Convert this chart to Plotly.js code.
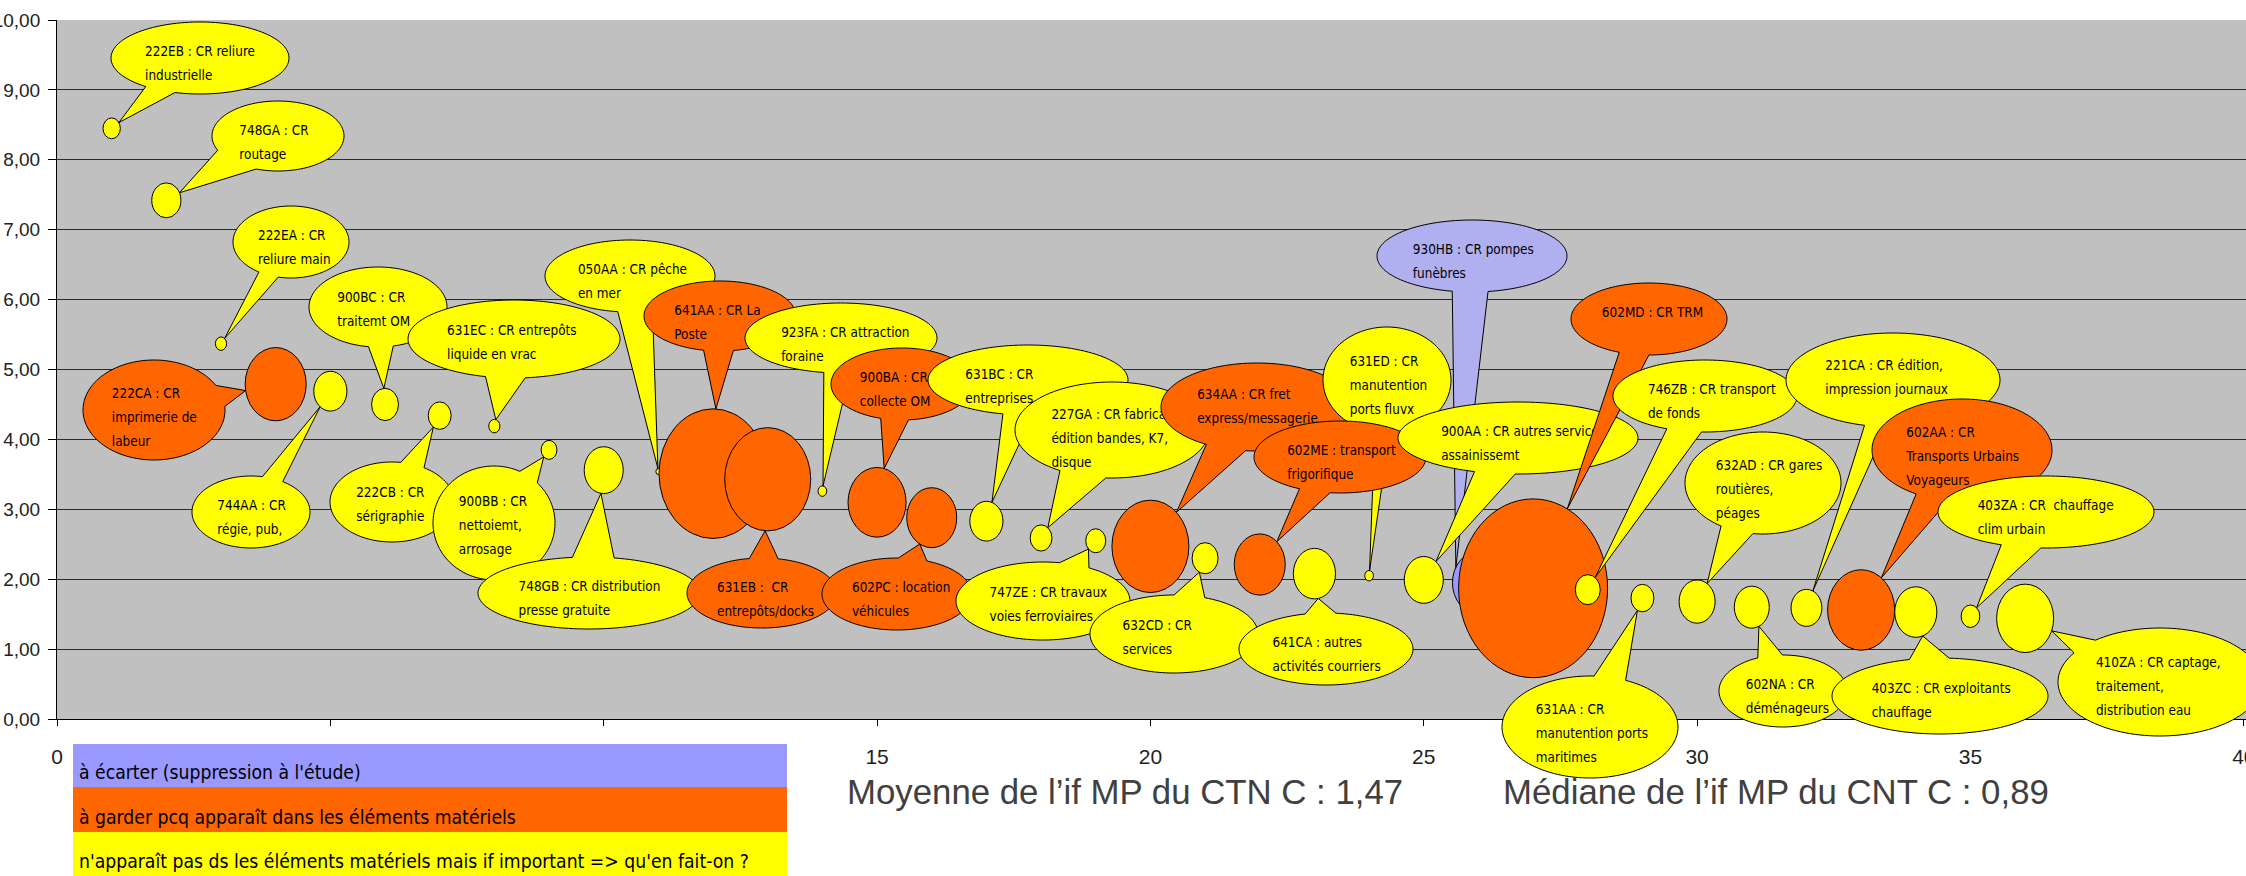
<!DOCTYPE html>
<html><head><meta charset="utf-8">
<script src="https://cdn.plot.ly/plotly-3.0.1.min.js"></script>
<style>html,body{margin:0;padding:0;background:#fff;overflow:hidden}#chart{width:2246px;height:876px}</style>
</head><body><div id="chart"></div>
<script>
// ================= DATA =================
const codes = ['222EB','748GA','222EA','222CA','744AA','900BC','222CB','631EC','900BB','748GB',
  '050AA','641AA','631EB','923FA','900BA','602PC','631BC','227GA','747ZE','634AA',
  '632CD','602ME','641CA','631ED','900AA','930HB','602MD','746ZB','631AA','632AD',
  '602NA','221CA','602AA','403ZC','403ZA','410ZA'];
const rank = [1,2,3,4,5,6,7,8,9,10,11,12,13,14,15,16,17,18,19,20,21,22,23,24,25,26,27,28,29,30,31,32,33,34,35,36];
const ifMP = [8.45,7.42,5.37,4.79,4.69,4.50,4.34,4.19,3.85,3.56,
  3.54,3.51,3.43,3.26,3.10,2.88,2.83,2.59,2.55,2.47,
  2.30,2.21,2.08,2.05,1.99,1.95,1.87,1.85,1.73,1.68,
  1.60,1.59,1.56,1.53,1.47,1.44];
const weight = [12,34,5,149,44,29,21,5,10,61,
  1,467,296,3,135,100,44,19,16,237,
  27,104,71,3,61,108,888,25,21,52,
  49,38,180,71,14,130];
// B = à écarter, O = à garder, Y = n'apparaît pas
const category = ['Y','Y','Y','O','Y','Y','Y','Y','Y','Y',
  'Y','O','O','Y','O','O','Y','Y','Y','O',
  'Y','O','Y','Y','Y','B','O','Y','Y','Y',
  'Y','Y','O','Y','Y','Y'];
const labels = [
  '222EB : CR reliure\nindustrielle','748GA : CR\nroutage','222EA : CR\nreliure main',
  '222CA : CR\nimprimerie de\nlabeur','744AA : CR\nrégie, pub,','900BC : CR\ntraitemt OM',
  '222CB : CR\nsérigraphie','631EC : CR entrepôts\nliquide en vrac','900BB : CR\nnettoiemt,\narrosage',
  '748GB : CR distribution\npresse gratuite','050AA : CR pêche\nen mer','641AA : CR La\nPoste',
  '631EB :  CR\nentrepôts/docks','923FA : CR attraction\nforaine','900BA : CR\ncollecte OM',
  '602PC : location\nvéhicules','631BC : CR\nentreprises','227GA : CR fabrication,\nédition bandes, K7,\ndisque',
  '747ZE : CR travaux\nvoies ferroviaires','634AA : CR fret\nexpress/messagerie','632CD : CR\nservices',
  '602ME : transport\nfrigorifique','641CA : autres\nactivités courriers','631ED : CR\nmanutention\nports fluvx',
  '900AA : CR autres services\nassainissemt','930HB : CR pompes\nfunèbres','602MD : CR TRM',
  '746ZB : CR transport\nde fonds','631AA : CR\nmanutention ports\nmaritimes','632AD : CR gares\nroutières,\npéages',
  '602NA : CR\ndéménageurs','221CA : CR édition,\nimpression journaux','602AA : CR\nTransports Urbains\nVoyageurs',
  '403ZC : CR exploitants\nchauffage','403ZA : CR  chauffage\nclim urbain','410ZA : CR captage,\ntraitement,\ndistribution eau'];
const legendCats = ['B','O','Y'];
const legendLabels = ["à écarter (suppression à l'étude)",
  "à garder pcq apparaît dans les éléments matériels",
  "n'apparaît pas ds les éléments matériels mais if important => qu'en fait-on ?"];
const meanText = 'Moyenne de l’if MP du CTN C : 1,47';
const medianText = 'Médiane de l’if MP du CNT C : 0,89';
const xTickVals = [0,5,10,15,20,25,30,35,40];
// labels 5 and 10 sit under the legend block in the original, so they are not shown
const xTickText = ['0','','','15','20','25','30','35','40'];
const yTickVals = [0,1,2,3,4,5,6,7,8,9,10];

// ================= LAYOUT / STYLE =================
const W = 2246, H = 876;
const M = {l:57, r:0, t:20, b:157, pad:0};
const PW = W - M.l - M.r, PH = H - M.t - M.b;
const XR = [0,40.04], YR = [0,10];
const pxX = x => M.l + (x - XR[0]) / (XR[1] - XR[0]) * PW;
const pxY = y => M.t + (1 - (y - YR[0]) / (YR[1] - YR[0])) * PH;
const papX = X => (X - M.l) / PW;
const papY = Y => (M.t + PH - Y) / PH;

const BUBBLE_FILL = {B:'#9999FF', O:'#FF6600', Y:'#FFFF00'};
const CALLOUT_FILL = {B:'#B0B0F0', O:'#FF6600', Y:'#FFFF00'};
const LEGEND_FILL = {B:'#9999FF', O:'#FF6600', Y:'#FFFF00'};
const BUBBLE_K = 5, ASPECT = 1.2;

// callout geometry in page pixels (draw order): code, cx, cy, rx, ry, tail base width, [aim dx, dy]
const calloutGeom = [
  ['222EB', 200, 58, 89, 36, 30], ['748GA', 278, 136, 66, 35, 44], ['222EA', 291, 242, 58, 36, 20],
  ['222CA', 154, 410, 71, 50, 23], ['900BC', 378, 307, 69, 40, 25], ['631EC', 514, 339, 106, 39, 40],
  ['744AA', 251, 512, 59, 36, 21], ['222CB', 392, 502, 62, 40, 24], ['900BB', 494, 523, 61, 57, 21],
  ['748GB', 589, 593, 111, 36, 42], ['050AA', 630, 276, 85, 36, 35], ['641AA', 720, 316, 76, 35, 30],
  ['923FA', 841, 338, 96, 35, 26], ['900BA', 902, 384, 71, 36, 28], ['631BC', 1028, 380, 100, 35, 30],
  ['227GA', 1112, 430, 97, 48, 47], ['634AA', 1257, 407, 96, 44, 40], ['631ED', 1387, 380, 64, 53, 15],
  ['602ME', 1340, 457, 86, 36, 31], ['930HB', 1472, 256, 95, 36, 36, -19, -13], ['900AA', 1518, 438, 120, 36, 41],
  ['602MD', 1649, 319, 78, 36, 30], ['746ZB', 1705, 396, 92, 36, 35], ['632AD', 1763, 483, 78, 51, 33],
  ['221CA', 1893, 380, 107, 47, 22], ['602AA', 1962, 450, 90, 51, 33], ['403ZA', 2046, 512, 108, 36, 40],
  ['631EB', 762, 593, 75, 35, 29], ['602PC', 897, 594, 75, 36, 29], ['747ZE', 1043, 601, 87, 39, 30],
  ['632CD', 1174, 634, 84, 39, 31], ['641CA', 1326, 649, 87, 36, 31], ['631AA', 1590, 727, 88, 51, 32],
  ['602NA', 1783, 691, 64, 36, 25], ['403ZC', 1940, 696, 108, 38, 40], ['410ZA', 2160, 682, 102, 54, 25]
];

// ---------- font detection / fitting ----------
const cv = document.createElement('canvas').getContext('2d');
function textW(t, fam, size){ cv.font = size + 'px ' + fam; return cv.measureText(t).width; }
function hasFont(name){
  const s = 'mmmmmmmmmmlliWW0123';
  return textW(s, "'" + name + "', monospace", 40) !== textW(s, 'monospace', 40) ||
         textW(s, "'" + name + "', serif", 40) !== textW(s, 'serif', 40);
}
const narrowFam = ['Liberation Sans Narrow','Arial Narrow','DejaVu Sans Condensed','Liberation Sans']
  .find(hasFont) || 'Liberation Sans';
const sansFam = hasFont('Liberation Sans') ? 'Liberation Sans' : 'Arial';
const fit = (t, fam, target) => 20 * target / textW(t, "'" + fam + "'", 20);
const calloutSize = Math.max(11, Math.min(19, fit('222EB : CR reliure', narrowFam, 110)));
const legendSize = Math.max(13, Math.min(24, fit(legendLabels[0], narrowFam, 282)));
const bigSize = fit(meanText, sansFam, 557);
const yTickSize = Math.min(19, fit('9,00', sansFam, 37));

// ================= BUILD =================
const idx = {}; codes.forEach((c,i) => idx[c] = i);
const shapes = [];
// bubbles (data-referenced ellipses)
codes.forEach((c,i) => {
  const w = BUBBLE_K * Math.sqrt(weight[i]);
  shapes.push({type:'circle', xref:'x', yref:'y', xsizemode:'pixel', ysizemode:'pixel',
    xanchor: rank[i], yanchor: ifMP[i], x0:-w/2, x1:w/2, y0:-w*ASPECT/2, y1:w*ASPECT/2,
    fillcolor: BUBBLE_FILL[category[i]], line:{color:'#000', width:1}, layer:'above'});
});
// callouts
calloutGeom.forEach(g => {
  const [code, cx, cy, rx, ry, bw, ax, ay] = g;
  const i = idx[code];
  const bx = pxX(rank[i]), by = pxY(ifMP[i]);
  const w = BUBBLE_K * Math.sqrt(weight[i]), a = w/2, b = w*ASPECT/2;
  const dx = (ax !== undefined) ? ax : cx - bx, dy = (ay !== undefined) ? ay : cy - by;
  const s = 1 / Math.sqrt((dx/a)**2 + (dy/b)**2);
  const tx = bx + s*dx, ty = by + s*dy;
  const t0 = Math.atan2((ty - cy)/ry, (tx - cx)/rx);
  const sp = Math.hypot(rx*Math.sin(t0), ry*Math.cos(t0));
  const d = bw / (2*sp);
  const N = 120, pts = [];
  for (let k = 0; k <= N; k++) {
    const t = t0 + d + (2*Math.PI - 2*d) * k / N;
    pts.push([cx + rx*Math.cos(t), cy + ry*Math.sin(t)]);
  }
  pts.push([tx, ty]);
  const path = 'M ' + pts.map(p => papX(p[0]).toFixed(5) + ',' + papY(p[1]).toFixed(5)).join(' L ') + ' Z';
  shapes.push({type:'path', xref:'paper', yref:'paper', path, fillcolor: CALLOUT_FILL[category[i]],
    line:{color:'#000', width:1}, layer:'above'});
  labels[i].split('\n').forEach((line, k) => {
    const X = cx - 0.707*rx + 5, Y = cy - 0.707*ry + 17.5 + 24*k;
    shapes.push({type:'rect', xref:'paper', yref:'paper', x0:papX(X), x1:papX(X+1),
      y0:papY(Y+0.5), y1:papY(Y-0.5), line:{width:0, color:'rgba(0,0,0,0)'}, fillcolor:'rgba(0,0,0,0)', layer:'above',
      label:{text:line, textposition:'middle left', padding:0,
        font:{family:"'" + narrowFam + "'", size:calloutSize, color:'#000'}}});
  });
});
// legend bands
const bandTop = [744, 787, 832], bandBot = [787, 832, 876];
const annotations = [];
legendCats.forEach((c,k) => {
  shapes.push({type:'rect', xref:'paper', yref:'paper', x0:papX(73), x1:papX(787),
    y0:papY(bandBot[k]), y1:papY(bandTop[k]), fillcolor:LEGEND_FILL[c], line:{width:0}, layer:'above'});
  annotations.push({xref:'paper', yref:'paper', x:papX(77), y:papY(bandBot[k]-15), xanchor:'left', yanchor:'middle',
    showarrow:false, text:legendLabels[k], font:{family:"'" + narrowFam + "'", size:legendSize, color:'#000'}});
});
annotations.push({xref:'paper', yref:'paper', x:papX(845), y:papY(792), xanchor:'left', yanchor:'middle',
  showarrow:false, text:meanText, font:{family:sansFam, size:bigSize, color:'#404040'}});
annotations.push({xref:'paper', yref:'paper', x:papX(1501), y:papY(792), xanchor:'left', yanchor:'middle',
  showarrow:false, text:medianText, font:{family:sansFam, size:bigSize, color:'#404040'}});

const traces = ['B','O','Y'].map(c => {
  const ii = codes.map((_,i) => i).filter(i => category[i] === c);
  return {type:'scatter', mode:'markers', x: ii.map(i => rank[i]), y: ii.map(i => ifMP[i]),
    text: ii.map(i => labels[i].replace(/\n/g,' ')), hoverinfo:'text',
    marker:{size:2, color:BUBBLE_FILL[c]}, showlegend:false, cliponaxis:true};
});

const layout = {
  width:W, height:H, margin:M, paper_bgcolor:'#ffffff', plot_bgcolor:'#C0C0C0',
  separators:', ', showlegend:false,
  xaxis:{range:XR, tickvals:xTickVals, ticktext:xTickText, ticks:'outside', ticklen:6, tickcolor:'#000', tickwidth:1,
    showgrid:false, zeroline:false, showline:true, linecolor:'#000', linewidth:1,
    tickfont:{family:sansFam, size:21, color:'#222'}, ticklabelstandoff:13, ticklabeloverflow:'allow', fixedrange:true},
  yaxis:{range:YR, tickvals:yTickVals, tickformat:'.2f', ticks:'outside', ticklen:8, tickcolor:'#000', tickwidth:1,
    showgrid:true, gridcolor:'#2a2a2a', gridwidth:1, zeroline:false, showline:true, linecolor:'#000', linewidth:1,
    tickfont:{family:sansFam, size:yTickSize, color:'#222'}, ticklabelstandoff:4, ticklabeloverflow:'allow', fixedrange:true},
  shapes, annotations
};
Plotly.newPlot('chart', traces, layout, {displayModeBar:false, staticPlot:true});
</script></body></html>
